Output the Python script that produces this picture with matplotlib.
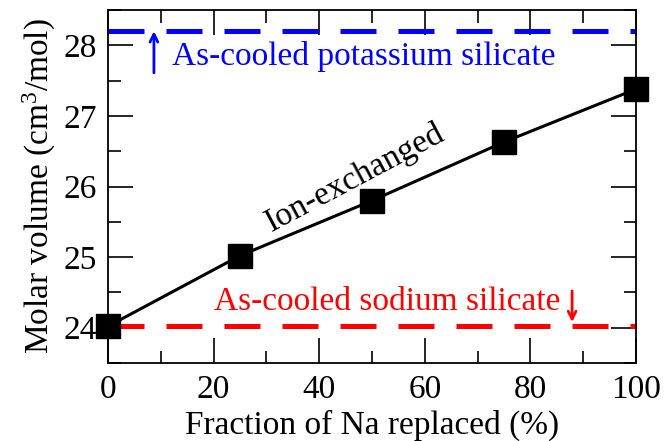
import matplotlib
matplotlib.use("Agg")
import matplotlib.pyplot as plt
from matplotlib.ticker import MultipleLocator

# data
fraction = [0, 25, 50, 75, 100]
molar_volume = [24.02, 25.02, 25.80, 26.63, 27.38]
potassium_level = 28.2
sodium_level = 24.02

plt.rcParams['font.family'] = ['Liberation Serif', 'DejaVu Serif']
plt.rcParams['mathtext.default'] = 'regular'

fig = plt.figure(figsize=(6.65, 4.41), dpi=100)
ax = fig.add_axes([108 / 665, 1 - 363 / 441, 528 / 665, 353 / 441])

ax.plot([0, 100], [potassium_level] * 2, color='blue', lw=3.6,
        dashes=(7.2, 4.4), clip_on=False, zorder=2)
ax.plot([0, 100], [sodium_level] * 2, color='red', lw=3.6,
        dashes=(7.2, 4.4), clip_on=False, zorder=2)
ax.plot(fraction, molar_volume, color='black', lw=2.2, marker='s',
        markersize=17, clip_on=False, zorder=3)

ax.text(12.2, 27.84, 'As-cooled potassium silicate', color='blue',
        fontsize=24, va='center', ha='left')
ax.annotate('', xy=(8.7, 28.24), xytext=(8.7, 27.57),
            arrowprops=dict(arrowstyle='->', color='blue', lw=2,
                            mutation_scale=14))
ax.text(85.6, 24.37, 'As-cooled sodium silicate', color='red',
        fontsize=24, va='center', ha='right')
ax.annotate('', xy=(87.9, 24.04), xytext=(87.9, 24.56),
            arrowprops=dict(arrowstyle='->', color='red', lw=2,
                            mutation_scale=14))
ax.text(46.8, 26.12, 'Ion-exchanged', fontsize=24, rotation=28,
        ha='center', va='center', rotation_mode='anchor')

ax.set_xlim(0, 100)
ax.set_ylim(23.5, 28.5)
ax.xaxis.set_major_locator(MultipleLocator(20))
ax.xaxis.set_minor_locator(MultipleLocator(10))
ax.yaxis.set_major_locator(MultipleLocator(1))
ax.yaxis.set_minor_locator(MultipleLocator(0.5))
ax.tick_params(which='both', direction='in', top=True, right=True,
               width=1.2, labelsize=24)
ax.tick_params(which='major', length=18, pad=8)
ax.tick_params(which='minor', length=9)
for s in ax.spines.values():
    s.set_linewidth(1.3)

ax.set_xlabel('Fraction of Na replaced (%)', fontsize=24)
ax.set_ylabel('Molar volume (cm$^{3}$/mol)', fontsize=24)

fig.savefig('out.png', dpi=100)
